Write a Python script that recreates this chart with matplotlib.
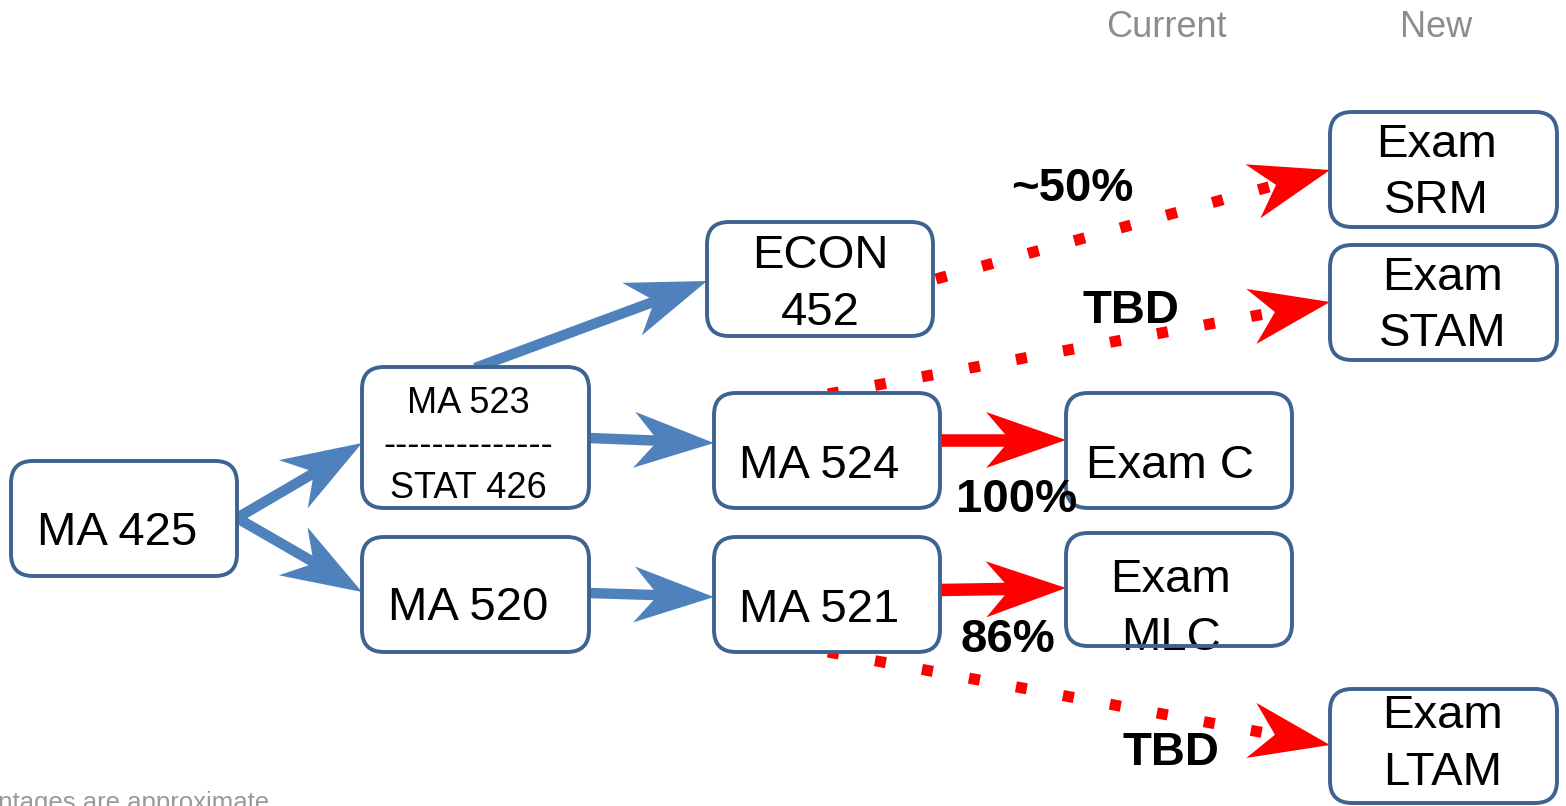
import numpy as np
import matplotlib
matplotlib.use("Agg")
import matplotlib.pyplot as plt
from matplotlib.patches import FancyBboxPatch, Polygon

W, H = 1566, 806
FONT = "Liberation Sans"

# ---- node data (pixel layout) ----
node_names = ["MA425", "MA523", "MA520", "ECON452", "MA524", "MA521",
              "ExamC", "ExamMLC", "ExamSRM", "ExamSTAM", "ExamLTAM"]
node_boxes = [(11, 461, 237, 576), (362, 367, 589, 508), (362, 537, 589, 652),
              (707, 222, 933, 336), (714, 393, 940, 508), (714, 537, 940, 652),
              (1066, 393, 1292, 508), (1066, 533, 1292, 646),
              (1330, 112, 1557, 227), (1330, 245, 1557, 360), (1330, 689, 1557, 803)]
node_lines = [["MA 425"], ["MA 523", "--------------", "STAT 426"], ["MA 520"],
              ["ECON", "452"], ["MA 524"], ["MA 521"], ["Exam C"], ["Exam", "MLC"],
              ["Exam", "SRM"], ["Exam", "STAM"], ["Exam", "LTAM"]]
node_text_x = [117, 468, 468, 820, 819, 819, 1170, 1171, 1436, 1443, 1443]
node_baselines = [[545], [413, 455, 498], [620], [268, 325], [478], [622], [478],
                  [592, 650], [157, 213], [290, 346], [728, 785]]
node_sizes = [34, 26, 34, 34, 34, 34, 34, 34, 34, 34, 34]

# ---- edges ----
blue_edges = [((237, 518), (362, 443)), ((237, 518), (362, 592)),
              ((589, 438), (714, 443)), ((589, 593), (714, 597)),
              ((475, 368), (707, 281))]
red_edges = [((940, 440), (1066, 440)), ((940, 590), (1066, 588))]
dotted_edges = [((936, 279), (1330, 170)), ((828, 394), (1330, 302)),
                ((828, 652), (1330, 745))]

labels = ["~50%", "TBD", "100%", "86%", "TBD"]
label_x = [1072, 1131, 1017, 1008, 1171]
label_base = [201, 323, 512, 652, 765]

headers = ["Current", "New"]
header_x = [1166, 1436]
footnote = "Percentages are approximate"

BOX_EDGE = "#3e6291"
BLUE = "#4f81bd"
RED = "#ff0000"

fig = plt.figure(figsize=(W / 100, H / 100), dpi=100)
ax = fig.add_axes([0, 0, 1, 1])
ax.set_xlim(0, W)
ax.set_ylim(H, 0)
ax.axis("off")

HEAD_L, HEAD_W, HEAD_N = 80, 28, 56


def head(ax, p0, p1, color, z):
    p0 = np.array(p0, float); p1 = np.array(p1, float)
    d = p1 - p0
    u = d / np.hypot(*d)
    n = np.array([-u[1], u[0]])
    back = p1 - HEAD_L * u
    pts = [p1, back + HEAD_W * n, p1 - HEAD_N * u, back - HEAD_W * n]
    ax.add_patch(Polygon(pts, closed=True, facecolor=color, edgecolor="none", zorder=z))
    return p1 - HEAD_N * u


for p0, p1 in blue_edges:
    notch = head(ax, p0, p1, BLUE, 3)
    ax.plot([p0[0], notch[0] + 2], [p0[1], notch[1]], color=BLUE, lw=7.5,
            solid_capstyle="butt", zorder=3)

for p0, p1 in red_edges:
    notch = head(ax, p0, p1, RED, 3)
    ax.plot([p0[0], notch[0] + 2], [p0[1], notch[1]], color=RED, lw=9,
            solid_capstyle="butt", zorder=3)

for p0, p1 in dotted_edges:
    notch = head(ax, p0, p1, RED, 3)
    ax.plot([p0[0], notch[0]], [p0[1], notch[1]], color=RED, lw=8,
            dashes=(1, 3.3), dash_capstyle="butt", zorder=3)

for box, lines, tx, bls, fs in zip(node_boxes, node_lines, node_text_x,
                                   node_baselines, node_sizes):
    x0, y0, x1, y1 = box
    style = "round,pad=0,rounding_size=22"
    face = FancyBboxPatch((x0, y0), x1 - x0, y1 - y0, boxstyle=style,
                          facecolor="white", edgecolor="none", zorder=4)
    ax.add_patch(face)
    ax.add_patch(FancyBboxPatch((x0, y0), x1 - x0, y1 - y0, boxstyle=style,
                                facecolor="none", edgecolor=BOX_EDGE, lw=2.8,
                                zorder=6))
    for line, b in zip(lines, bls):
        t = ax.text(tx, b, line, fontsize=fs, family=FONT, ha="center",
                    va="baseline", color="black", zorder=5)
        t.set_clip_path(face)

for t, x, b in zip(labels, label_x, label_base):
    ax.text(x, b, t, fontsize=34, family=FONT, fontweight="bold",
            ha="center", va="baseline", color="black", zorder=7)

for t, x in zip(headers, header_x):
    ax.text(x, 37, t, fontsize=26, family=FONT, ha="center", va="baseline",
            color="#8c8c8c", zorder=7)

ax.text(269, 810, footnote, fontsize=18.5, family=FONT, ha="right",
        va="baseline", color="#999999", zorder=7)

fig.savefig("out.png", dpi=100, facecolor="white")
